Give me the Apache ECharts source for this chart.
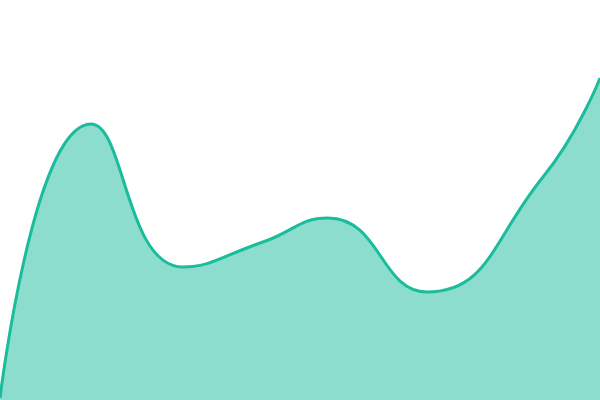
<!DOCTYPE html>
<html>
<head>
<meta charset="utf-8">
<script src="https://cdn.jsdelivr.net/npm/echarts@6/dist/echarts.min.js"></script>
<style>
  html, body { margin: 0; padding: 0; background: #fff; }
  #chart { width: 600px; height: 400px; }
</style>
</head>
<body>
<div id="chart"></div>
<script>
// data (x positions are uneven, so a value axis is used)
let xValues = [0, 91, 183, 263, 328, 427, 543, 600];
let yValues = [2, 276, 133, 158, 182, 108, 223, 322];

let points = xValues.map(function (x, i) { return [x, yValues[i]]; });

let chart = echarts.init(document.getElementById('chart'));
let option = {
    animation: false,
    grid: { left: 0, right: 0, top: 0, bottom: 0 },
    xAxis: {
        type: 'value',
        min: 0,
        max: 600,
        show: false
    },
    yAxis: {
        type: 'value',
        min: 0,
        max: 400,
        show: false
    },
    series: [
        {
            type: 'line',
            data: points,
            smooth: true,
            symbol: 'none',
            lineStyle: { color: '#1abc9c', width: 3 },
            areaStyle: { color: '#1abc9c', opacity: 0.5 }
        }
    ]
};
chart.setOption(option);
</script>
</body>
</html>
